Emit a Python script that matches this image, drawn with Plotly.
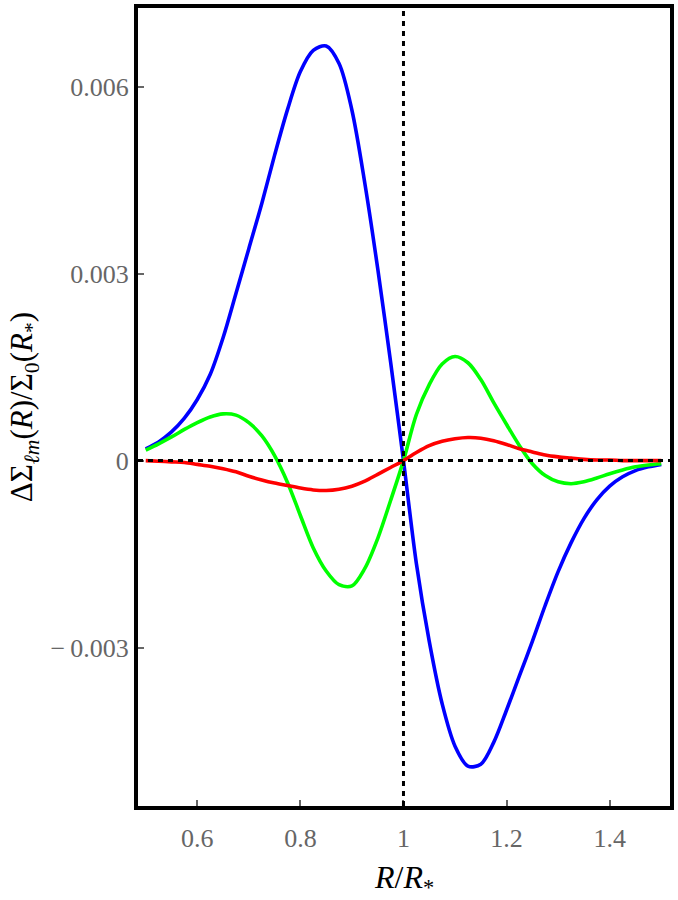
import plotly.graph_objects as go

# common radial grid R/R*
r_grid = [0.500, 0.525, 0.550, 0.575, 0.600, 0.625, 0.650, 0.675, 0.700, 0.725, 0.750,
          0.775, 0.800, 0.825, 0.850, 0.875, 0.900, 0.925, 0.950, 0.975, 1.000, 1.025,
          1.050, 1.075, 1.100, 1.125, 1.150, 1.175, 1.200, 1.225, 1.250, 1.275, 1.300,
          1.325, 1.350, 1.375, 1.400, 1.425, 1.450, 1.475, 1.500]

blue_y = [0.00019, 0.00030, 0.00046, 0.00068, 0.00098, 0.00138, 0.00197, 0.00268, 0.00340,
          0.00412, 0.00490, 0.00563, 0.00624, 0.00658, 0.00665, 0.00637, 0.00562, 0.00445,
          0.00308, 0.00158, 0.00000, -0.00165, -0.00290, -0.00390, -0.00458, -0.00490,
          -0.00487, -0.00452, -0.00400, -0.00345, -0.00290, -0.00232, -0.00178, -0.00132,
          -0.00093, -0.00063, -0.00041, -0.00026, -0.00016, -0.00010, -0.00006]

green_y = [0.00017, 0.00027, 0.00038, 0.00050, 0.00061, 0.00070, 0.00075, 0.00073, 0.00061,
           0.00040, 0.00008, -0.00035, -0.00088, -0.00140, -0.00177, -0.00199, -0.00201,
           -0.00173, -0.00125, -0.00064, 0.00000, 0.00074, 0.00122, 0.00155, 0.00167,
           0.00157, 0.00130, 0.00093, 0.00058, 0.00024, -0.00005, -0.00024, -0.00034,
           -0.00037, -0.00034, -0.00028, -0.00021, -0.00015, -0.00010, -0.00007, -0.00005]

red_y = [0.00000, -0.00001, -0.00002, -0.00003, -0.00006, -0.00009, -0.00013, -0.00018,
         -0.00025, -0.00031, -0.00036, -0.00040, -0.00044, -0.00047, -0.00048, -0.00046,
         -0.00041, -0.00033, -0.00022, -0.00011, 0.00000, 0.00013, 0.00024, 0.00031,
         0.00035, 0.00037, 0.00036, 0.00032, 0.00026, 0.00019, 0.00014, 0.00009, 0.00006,
         0.00004, 0.00002, 0.00001, 0.00001, 0.00000, 0.00000, 0.00000, 0.00000]

x_ticks = [0.6, 0.8, 1.0, 1.2, 1.4]
x_ticktext = ["0.6", "0.8", "1", "1.2", "1.4"]
y_ticks = [-0.003, 0.0, 0.003, 0.006]
y_ticktext = ["\u2212\u20090.003", "0", "0.003", "0.006"]

fig = go.Figure()
for ys, col in [(blue_y, "#0000ff"), (green_y, "#00ff00"), (red_y, "#ff0000")]:
    fig.add_trace(go.Scatter(x=r_grid, y=ys, mode="lines",
                             line=dict(color=col, width=3.6, shape="spline", smoothing=0.9),
                             showlegend=False, hoverinfo="skip"))

dot = dict(color="black", width=3, dash="5px,5px")
fig.add_shape(type="line", xref="paper", yref="y", x0=0, x1=1, y0=0, y1=0, line=dot, layer="above")
fig.add_shape(type="line", xref="x", yref="paper", x0=1, x1=1, y0=0, y1=1, line=dot, layer="above")

serif = "Liberation Serif"
tickfont = dict(family=serif, size=26, color="#666666")
fig.update_xaxes(range=[0.485, 1.517], tickvals=x_ticks, ticktext=x_ticktext,
                 showline=True, linewidth=4, linecolor="black", mirror=True,
                 ticks="inside", ticklen=6, tickwidth=2, tickcolor="#666666",
                 showgrid=False, zeroline=False, tickfont=tickfont, ticklabelstandoff=6)
fig.update_yaxes(range=[-0.00554, 0.00726], tickvals=y_ticks, ticktext=y_ticktext,
                 showline=True, linewidth=4, linecolor="black", mirror=True,
                 ticks="inside", ticklen=6, tickwidth=2, tickcolor="#666666",
                 showgrid=False, zeroline=False, tickfont=tickfont, ticklabelstandoff=0)

fig.add_annotation(xref="paper", yref="paper", x=0.5, y=-0.092, yanchor="middle", showarrow=False,
                   text="<i>R</i>/<i>R</i><sub>*</sub>",
                   font=dict(family=serif, size=32, color="black"))
fig.add_annotation(xref="paper", yref="paper", x=-0.214, y=0.5, xanchor="center",
                   yanchor="middle", textangle=-90, showarrow=False,
                   text="ΔΣ<sub><i>ℓm</i></sub>(<i>R</i>)/Σ<sub>0</sub>(<i>R</i><sub>*</sub>)",
                   font=dict(family=serif, size=31, color="black"))

fig.update_layout(width=678, height=900, margin=dict(l=138, r=4, t=4, b=94),
                  plot_bgcolor="white", paper_bgcolor="white")
fig.write_html("out.html")
